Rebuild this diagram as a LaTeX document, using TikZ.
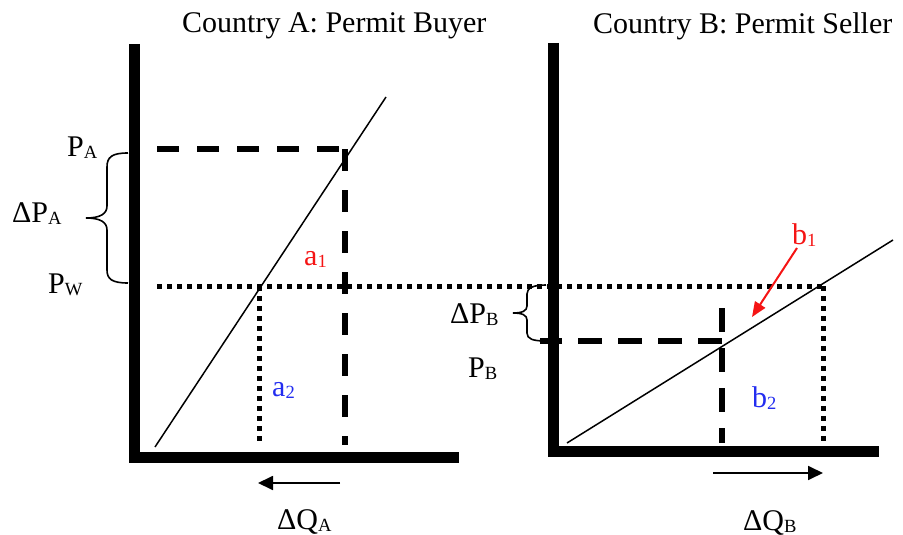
\documentclass[tikz,border=0pt]{standalone}
\usepackage{graphicx}
\usepackage{fontspec}
\setmainfont{Liberation Serif}
\usetikzlibrary{arrows.meta}
\definecolor{lblred}{RGB}{245,20,20}
\definecolor{lblblue}{RGB}{35,45,240}
\newcommand{\sbs}[1]{\raisebox{-0.08em}{\scalebox{0.62}{#1}}}
\begin{document}
\begin{tikzpicture}[x=1pt,y=-1pt,
  lbl/.style={inner sep=0pt, anchor=base west, font=\fontsize{30}{36}\selectfont},
  axisline/.style={line width=11pt, line join=miter},
  supply/.style={line width=1.5pt},
  dashln/.style={line width=6pt, dash pattern=on 22pt off 18pt},
  dotln/.style={line width=5pt, dash pattern=on 5pt off 5pt},
  bracel/.style={line width=1.6pt},
  shiftarrow/.style={line width=1.8pt, -{Triangle[length=15pt,width=14pt]}}]
\useasboundingbox (0,0) rectangle (903,535);

% titles
\node[lbl] (titleA) at (182,33) {Country A: Permit Buyer};
\node[lbl] (titleB) at (593,34) {Country B: Permit Seller};

% ---------- Country A ----------
\coordinate (Atop) at (134,44);
\coordinate (Aorig) at (134,457);
\coordinate (Aend) at (459,457);
\draw[axisline] (Atop) -- (Aorig) -- (Aend);

\coordinate (SAlow) at (155,447);
\coordinate (SAhigh) at (386,97);
\draw[supply] (SAlow) -- (SAhigh);

\coordinate (PAstart) at (157,149);
\coordinate (PAcorner) at (345,149);
\coordinate (PAfoot) at (345,445);
\draw[dashln] (PAstart) -- (PAcorner);
\draw[dashln, dash pattern=on 22pt off 19pt] (PAcorner) -- (PAfoot);

\coordinate (PWstart) at (157,286);
\coordinate (PWend) at (823,286);
\coordinate (PWa) at (259,286);
\coordinate (PWafoot) at (259,442);
\coordinate (PWbfoot) at (823,443);
\draw[dotln] (PWstart) -- (PWend);
\draw[dotln] (PWa) -- (PWafoot);
\draw[dotln] (PWend) -- (PWbfoot);

\draw[bracel] (128,153) .. controls (112,153) and (107,157) .. (107,167)
  -- (107,206) .. controls (107,214) and (100,218) .. (86,218)
  .. controls (100,218) and (107,222) .. (107,230)
  -- (107,270) .. controls (107,279) and (112,283) .. (128,283);

\node[lbl] (PA) at (67,156) {P\sbs{A}};
\node[lbl] (dPA) at (12,222) {ΔP\sbs{A}};
\node[lbl] (PW) at (48,293) {P\sbs{W}};
\node[lbl, text=lblred] (a1) at (304,265) {a\sbs{1}};
\node[lbl, text=lblblue] (a2) at (272,396) {a\sbs{2}};

\coordinate (qAfrom) at (340,483);
\coordinate (qAto) at (258,483);
\draw[shiftarrow] (qAfrom) -- (qAto);
\node[lbl] (dQA) at (277,529) {ΔQ\sbs{A}};

% ---------- Country B ----------
\coordinate (Btop) at (553,43);
\coordinate (Borig) at (553,451);
\coordinate (Bend) at (879,451);
\draw[axisline] (Btop) -- (Borig) -- (Bend);

\coordinate (SBlow) at (567,443);
\coordinate (SBhigh) at (893,240);
\draw[supply] (SBlow) -- (SBhigh);

\coordinate (PBcorner) at (722,341);
\coordinate (PBstart) at (540,341);
\coordinate (PBtop) at (722,308);
\coordinate (PBfoot) at (722,443);
\draw[dashln, dash pattern=on 24pt off 16pt] (PBcorner) -- (PBstart);
\draw[dashln, dash pattern=on 24pt off 16pt] (PBtop) -- (PBfoot);

\draw[bracel] (546,285) .. controls (533,285) and (527,288) .. (527,294)
  -- (527,306) .. controls (527,311) and (522,313) .. (513,313)
  .. controls (522,313) and (527,315) .. (527,320)
  -- (527,333) .. controls (527,339) and (533,341) .. (546,341);

\node[lbl] (dPB) at (450,323) {ΔP\sbs{B}};
\node[lbl] (PB) at (468,377) {P\sbs{B}};
\node[lbl, text=lblred] (b1) at (792,244) {b\sbs{1}};
\node[lbl, text=lblblue] (b2) at (752,407) {b\sbs{2}};

\coordinate (b1from) at (797,248);
\coordinate (b1to) at (752,317);
\draw[line width=2pt, lblred, -{Triangle[length=15pt,width=12pt]}] (b1from) -- (b1to);

\coordinate (qBfrom) at (713,473);
\coordinate (qBto) at (823,473);
\draw[shiftarrow] (qBfrom) -- (qBto);
\node[lbl] (dQB) at (743,530) {ΔQ\sbs{B}};
\end{tikzpicture}
\end{document}
